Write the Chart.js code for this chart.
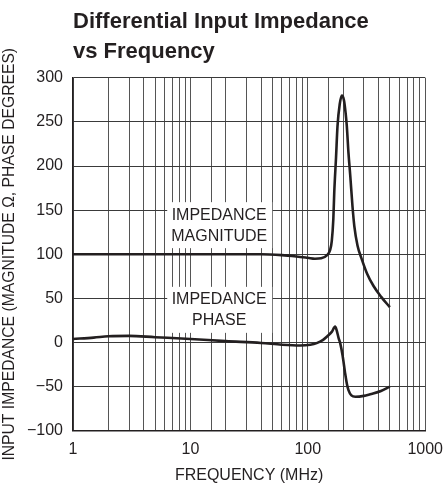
<!DOCTYPE html>
<html>
<head>
<meta charset="utf-8">
<script src="https://cdn.jsdelivr.net/npm/chart.js@4.4.1/dist/chart.umd.min.js"></script>
<style>
  html, body { margin: 0; padding: 0; background: #fff; }
  #wrap { width: 443px; height: 489px; }
</style>
</head>
<body>
<div id="wrap"><canvas id="zChart" width="443" height="489"></canvas></div>
<script>
// datos (frecuencia en MHz)
const magFreq  = [1, 2, 5, 10, 20, 40, 60, 80, 100, 115, 130, 146, 155, 160, 165, 168, 174, 179, 187, 195, 203, 210, 215, 222, 230, 240, 249, 265, 289, 320, 363, 420, 500];
const magValue = [100, 100, 100, 100, 100, 100, 99, 97.5, 96, 95, 95.5, 99, 105, 115, 140, 170, 210, 245, 270, 280, 275, 260, 245, 215, 189, 155, 132, 110, 94, 78, 64, 52, 40];

const phaseFreq  = [1, 1.5, 2, 3, 5, 10, 20, 40, 60, 86, 105, 119, 135, 146, 160, 171, 176, 183, 189, 198, 208, 216, 222, 235, 254, 300, 340, 420, 500];
const phaseValue = [4, 5.5, 7, 7.5, 6, 4, 1.5, -0.5, -2.5, -3.4, -2.5, -0.7, 3, 6.8, 12, 18, 14, 5, -1, -15, -35, -48, -54, -60, -61.5, -60.5, -58.6, -55, -50];

const xTickLabels = [1, 10, 100, 1000];

// etiquetas dentro del grafico
const noteText  = [['IMPEDANCE', 'MAGNITUDE'], ['IMPEDANCE', 'PHASE']];
const noteFreq  = [17.6, 17.6];
const noteValue = [133, 37];

const FONT = "'Liberation Sans', Arial, sans-serif";
const INK = '#231f20';

function toXY(xs, ys) {
    return xs.map((x, i) => ({ x: x, y: ys[i] }));
}

// Plugin: cajas blancas con texto
const notesPlugin = {
    id: 'notes',
    afterDatasetsDraw(chart) {
        const ctx = chart.ctx;
        const sx = chart.scales.x, sy = chart.scales.y;
        ctx.save();
        ctx.font = '16px ' + FONT;
        ctx.textAlign = 'center';
        ctx.textBaseline = 'middle';
        noteText.forEach((lines, i) => {
            const cx = sx.getPixelForValue(noteFreq[i]);
            const cy = sy.getPixelForValue(noteValue[i]);
            ctx.fillStyle = '#fff';
            ctx.fillRect(cx - 52, cy - 23, 105, 46);
            ctx.fillStyle = INK;
            ctx.fillText(lines[0], cx, cy - 10);
            ctx.fillText(lines[1], cx, cy + 11);
        });
        ctx.restore();
    }
};

const ctx = document.getElementById('zChart').getContext('2d');
const myChart = new Chart(ctx, {
    type: 'line',
    data: {
        datasets: [
            {
                label: 'Magnitude',
                data: toXY(magFreq, magValue),
                borderColor: INK,
                borderWidth: 2.6,
                pointRadius: 0,
                fill: false,
                cubicInterpolationMode: 'monotone'
            },
            {
                label: 'Phase',
                data: toXY(phaseFreq, phaseValue),
                borderColor: INK,
                borderWidth: 2.6,
                pointRadius: 0,
                fill: false,
                cubicInterpolationMode: 'monotone'
            }
        ]
    },
    options: {
        responsive: false,
        animation: false,
        layout: { padding: { left: 0, right: 0, top: 0, bottom: 0 } },
        plugins: {
            legend: { display: false },
            tooltip: { enabled: false },
            title: {
                display: true,
                text: ['Differential Input Impedance', 'vs Frequency'],
                align: 'start',
                fullSize: false,
                color: INK,
                font: { family: FONT, size: 22, weight: 'bold', lineHeight: 1.36 },
                padding: { top: 7, bottom: 11 }
            }
        },
        scales: {
            x: {
                type: 'logarithmic',
                min: 1,
                max: 1000,
                afterFit: s => { s.height = 58.3; },
                border: { color: INK, width: 1.5 },
                // marcas invisibles para separar las etiquetas sin recortar el area
                grid: { color: '#555', lineWidth: 1, drawTicks: true, tickLength: 9, tickColor: 'rgba(0,0,0,0)' },
                ticks: {
                    autoSkip: false,
                    maxRotation: 0,
                    padding: 0,
                    color: INK,
                    font: { family: FONT, size: 16 },
                    callback: v => xTickLabels.includes(v) ? String(v) : ''
                },
                title: {
                    display: true,
                    text: 'FREQUENCY (MHz)',
                    color: INK,
                    font: { family: FONT, size: 16 },
                    padding: { top: 0, bottom: 4 }
                }
            },
            y: {
                min: -100,
                max: 300,
                afterFit: s => { s.width = 73; },
                border: { color: INK, width: 1.5 },
                grid: { color: '#3a3a3a', lineWidth: 1, drawTicks: false },
                ticks: {
                    stepSize: 50,
                    padding: 10,
                    color: INK,
                    font: { family: FONT, size: 16 },
                    callback: v => String(v).replace('-', '\u2212')
                },
                title: {
                    display: true,
                    text: 'INPUT IMPEDANCE (MAGNITUDE \u03A9, PHASE DEGREES)',
                    color: INK,
                    font: { family: FONT, size: 15.7, lineHeight: 1.2 },
                    padding: 0
                }
            }
        }
    },
    plugins: [notesPlugin]
});
</script>
</body>
</html>
